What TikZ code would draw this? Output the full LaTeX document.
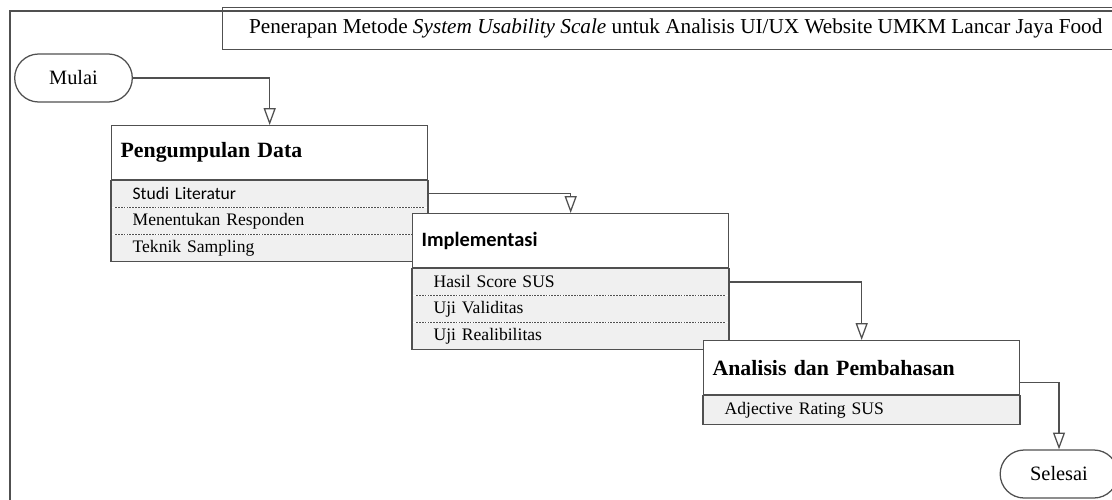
\documentclass[tikz,border=0pt]{standalone}
\usepackage{fontspec}
\setmainfont{Liberation Serif}
\newfontfamily\calibri{Carlito}
\usepackage{xcolor}
\usepackage{tikz}
\usetikzlibrary{arrows.meta, shapes.misc, positioning}
\definecolor{linegray}{RGB}{80,80,80}
\definecolor{rowgray}{RGB}{240,240,240}

\begin{document}
\begin{tikzpicture}[
    x=0.025cm, y=-0.025cm,
    line/.style={draw=linegray, line width=0.9pt},
    terminal/.style={line, rounded rectangle, minimum width=3.175cm, minimum height=1.2cm, font=\fontsize{14.5}{16}\selectfont},
    header/.style={line, fill=white, anchor=north west, minimum width=7.9cm, minimum height=1.35cm, inner xsep=0.225cm, inner ysep=0pt, text width=7.45cm, align=left, font=\fontsize{15.5}{17}\selectfont\bfseries},
    row/.style={fill=rowgray, minimum width=7.9cm, minimum height=0.665cm, inner xsep=0.525cm, inner ysep=0pt, text width=6.85cm, align=left, font=\fontsize{12.5}{14}\selectfont},
    sep/.style={draw=linegray, line width=0.6pt, dash pattern=on 1.2pt off 0.8pt, shorten <=0.1cm, shorten >=0.1cm},
    flow/.style={line, -{Triangle[open, length=0.42cm, width=0.3cm]}}
]
\useasboundingbox (0,0) rectangle (1112,500);
\clip (0,0) rectangle (1112,500);

\draw[line] (1150,11) -| (10,550);
\node[line, anchor=north west, minimum width=22.65cm, minimum height=1.05cm, font=\fontsize{15.1}{17}\selectfont] (title) at (222,7)
    {Penerapan Metode \textit{System Usability Scale} untuk Analisis UI/UX Website UMKM Lancar Jaya Food};

\node[terminal] (mulai) at (73.5,78) {Mulai};
\node[terminal] (selesai) at (1059,474) {Selesai};

\node[header] (hd1) at (111,125) {Pengumpulan Data};
\node[row, below=0pt of hd1] (it11) {\calibri Studi Literatur};
\node[row, below=0pt of it11] (it12) {Menentukan Responden};
\node[row, below=0pt of it12] (it13) {Teknik Sampling};
\draw[line] (hd1.south west) rectangle (it13.south east);
\draw[sep] (it11.south west) -- (it11.south east);
\draw[sep] (it12.south west) -- (it12.south east);

\node[header] (hd2) at (412,213) {\calibri\fontsize{14.5}{17}\selectfont Implementasi};
\node[row, below=0pt of hd2] (it21) {Hasil Score SUS};
\node[row, below=0pt of it21] (it22) {Uji Validitas};
\node[row, below=0pt of it22] (it23) {Uji Realibilitas};
\draw[line] (hd2.south west) rectangle (it23.south east);
\draw[sep] (it21.south west) -- (it21.south east);
\draw[sep] (it22.south west) -- (it22.south east);

\node[header] (hd3) at (703,340) {Analisis dan Pembahasan};
\node[row, below=0pt of hd3, minimum height=0.725cm] (it31) {Adjective Rating SUS};
\draw[line] (hd3.south west) rectangle (it31.south east);

\draw[flow] (mulai.east) -| (hd1.north);
\draw[flow] (it11.east) -| (hd2.north);
\draw[flow] (it21.east) -| (hd3.north);
\draw[flow] ([yshift=-0.375cm]hd3.east) -| (selesai.north);
\end{tikzpicture}
\end{document}
